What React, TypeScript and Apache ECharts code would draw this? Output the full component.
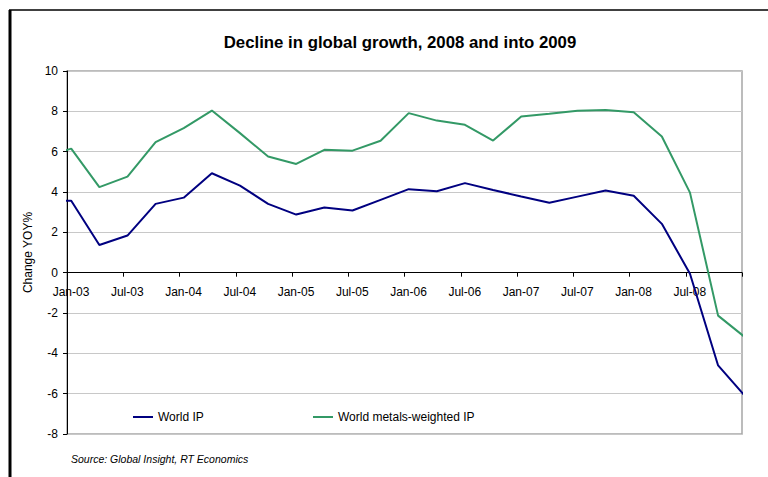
import React, { useEffect, useRef } from "react";
import * as echarts from "echarts";

// Months since Jan-2003 (quarterly observations, mid-month)
const months: number[] = [
  -2.55, 0.45, 3.45, 6.45, 9.45, 12.45, 15.45, 18.45, 21.45, 24.45, 27.45, 30.45,
  33.45, 36.45, 39.45, 42.45, 45.45, 48.45, 51.45, 54.45, 57.45, 60.45, 63.45,
  66.45, 69.45, 72.45,
];

const worldIP: number[] = [
  3.55, 3.57, 1.37, 1.84, 3.41, 3.72, 4.93, 4.32, 3.41, 2.88, 3.23, 3.08, 3.61,
  4.14, 4.04, 4.44, 4.1, 3.78, 3.47, 3.77, 4.07, 3.81, 2.42, -0.05, -4.6, -6.19,
];

const metalsIP: number[] = [
  5.72, 6.15, 4.24, 4.76, 6.47, 7.17, 8.04, 6.92, 5.76, 5.39, 6.09, 6.05, 6.54,
  7.91, 7.54, 7.33, 6.55, 7.74, 7.88, 8.03, 8.07, 7.96, 6.75, 3.97, -2.13, -3.25,
];

const tickLabels: string[] = [
  "Jan-03", "Jul-03", "Jan-04", "Jul-04", "Jan-05", "Jul-05", "Jan-06",
  "Jul-06", "Jan-07", "Jul-07", "Jan-08", "Jul-08", "",
];

const seriesNames = ["World IP", "World metals-weighted IP"];
const FONT = "'Liberation Sans', Arial, Helvetica, sans-serif";

export default function App() {
  const ref = useRef<HTMLDivElement>(null);

  useEffect(() => {
    if (!ref.current) return;
    const chart = echarts.init(ref.current, null, { renderer: "svg" });
    const pairs = (vals: number[]) => months.map((m, i) => [m, vals[i]]);

    chart.setOption({
      animation: false,
      backgroundColor: "#ffffff",
      textStyle: { fontFamily: FONT },
      title: {
        text: "Decline in global growth, 2008 and into 2009",
        left: 395,
        top: 29,
        textAlign: "center",
        textStyle: { fontFamily: FONT, fontSize: 16.8, fontWeight: "bold", color: "#000" },
      },
      grid: {
        left: 67,
        right: 26,
        top: 71,
        bottom: 43,
        show: true,
        borderColor: "#a6a6a6",
        borderWidth: 1.5,
        backgroundColor: "transparent",
      },
      legend: [
        {
          data: [seriesNames[0]],
          left: 128,
          top: 406,
          icon: "rect",
          itemWidth: 20,
          itemHeight: 2,
          textStyle: { fontFamily: FONT, fontSize: 12, color: "#000" },
        },
        {
          data: [seriesNames[1]],
          left: 308,
          top: 406,
          icon: "rect",
          itemWidth: 20,
          itemHeight: 2,
          textStyle: { fontFamily: FONT, fontSize: 12, color: "#000" },
        },
      ],
      xAxis: {
        type: "value",
        min: 0,
        max: 72,
        interval: 6,
        position: "bottom",
        offset: -161.3,
        axisLine: { show: true, onZero: false, lineStyle: { color: "#000", width: 1 } },
        axisTick: { show: true, inside: false, length: 4, lineStyle: { color: "#000" } },
        splitLine: { show: false },
        axisLabel: {
          margin: 13,
          color: "#000",
          fontSize: 12,
          fontFamily: FONT,
          padding: [0, 0, 0, 8],
          showMaxLabel: true,
          formatter: (v: number) => tickLabels[Math.round(v / 6)] ?? "",
        },
      },
      yAxis: {
        type: "value",
        min: -8,
        max: 10,
        interval: 2,
        name: "Change YOY%",
        nameLocation: "middle",
        nameGap: 28,
        nameTextStyle: { fontFamily: FONT, fontSize: 12, color: "#000" },
        axisLine: { show: true, onZero: false, lineStyle: { color: "#000", width: 1 } },
        axisTick: { show: true, length: 4, lineStyle: { color: "#000" } },
        splitLine: { show: true, lineStyle: { color: "#c8c8c8", width: 1.2 } },
        axisLabel: { margin: 9, color: "#000", fontSize: 12, fontFamily: FONT },
      },
      series: [
        {
          name: seriesNames[0],
          type: "line",
          data: pairs(worldIP),
          showSymbol: false,
          symbol: "none",
          clip: true,
          color: "#000080",
          lineStyle: { color: "#000080", width: 2 },
          z: 3,
        },
        {
          name: seriesNames[1],
          type: "line",
          data: pairs(metalsIP),
          showSymbol: false,
          symbol: "none",
          clip: true,
          color: "#339966",
          lineStyle: { color: "#339966", width: 2 },
          z: 2,
        },
      ],
      graphic: [
        {
          type: "line",
          shape: { x1: 9, y1: 10, x2: 768, y2: 10 },
          style: { stroke: "#000", lineWidth: 1.5 },
        },
        {
          type: "line",
          shape: { x1: 10, y1: 10, x2: 10, y2: 477 },
          style: { stroke: "#000", lineWidth: 3 },
        },
        {
          type: "text",
          x: 71,
          y: 459,
          style: {
            text: "Source: Global Insight, RT Economics",
            fontFamily: FONT,
            fontSize: 10.5,
            fontStyle: "italic",
            fill: "#000",
            textVerticalAlign: "middle",
          },
        },
      ],
    });

    return () => chart.dispose();
  }, []);

  return <div ref={ref} style={{ width: 768, height: 477, position: "absolute", left: 0, top: 0 }} />;
}
